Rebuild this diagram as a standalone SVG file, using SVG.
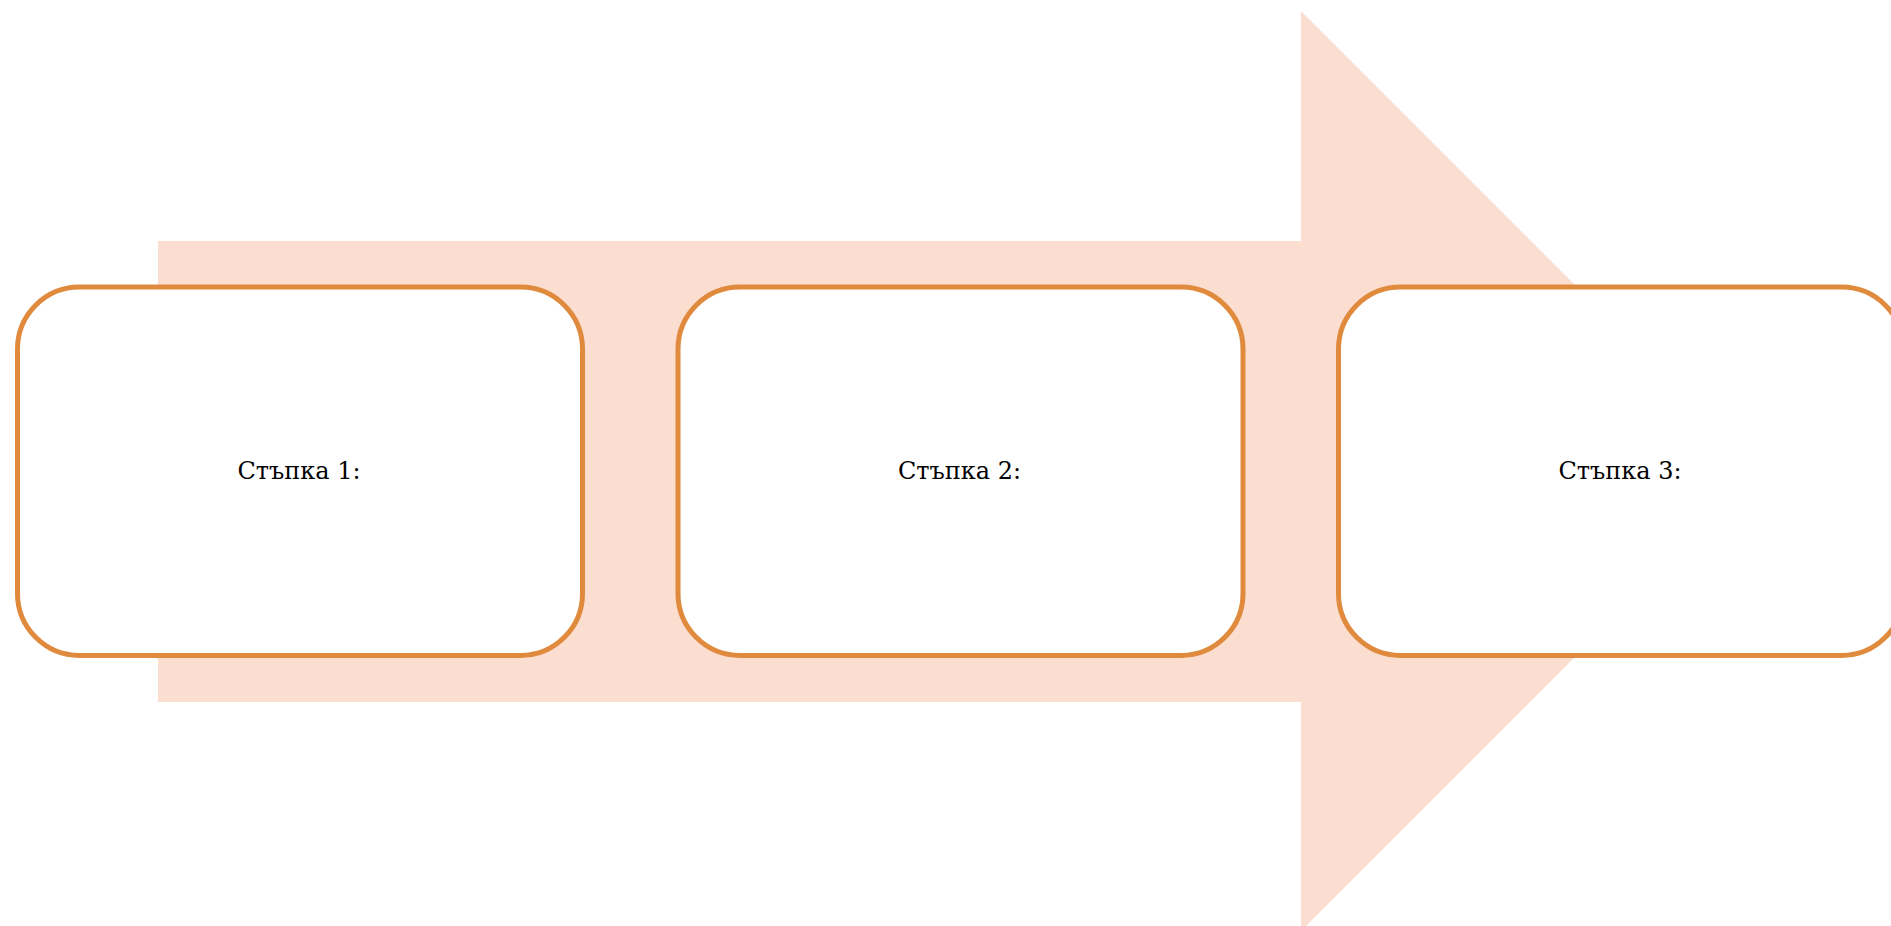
<svg xmlns="http://www.w3.org/2000/svg" width="1891" height="926" viewBox="0 0 1891 926">
  <style>
    .box { fill: #FFFFFF; stroke: #E08A3E; stroke-width: 5; }
    .lbl { font-family: "DejaVu Serif", "Liberation Serif", serif; font-size: 24px; fill: #000000; text-anchor: middle; }
  </style>
  <rect width="1891" height="926" fill="#FFFFFF"/>
  <g id="arrow">
    <polygon points="158,241 1301,241 1301,11 1761,471 1301,931 1301,702 158,702" fill="#FCDED1"/>
  </g>
  <g id="connectors"></g>
  <g id="node1">
    <rect class="box" x="17.5" y="287" width="565" height="368.5" rx="62" ry="62"/>
    <text class="lbl" x="299" y="479">Стъпка 1:</text>
  </g>
  <g id="node2">
    <rect class="box" x="678" y="287" width="565" height="368.5" rx="62" ry="62"/>
    <text class="lbl" x="959.5" y="479">Стъпка 2:</text>
  </g>
  <g id="node3">
    <rect class="box" x="1338.5" y="287" width="565" height="368.5" rx="62" ry="62"/>
    <text class="lbl" x="1620" y="479">Стъпка 3:</text>
  </g>
</svg>
